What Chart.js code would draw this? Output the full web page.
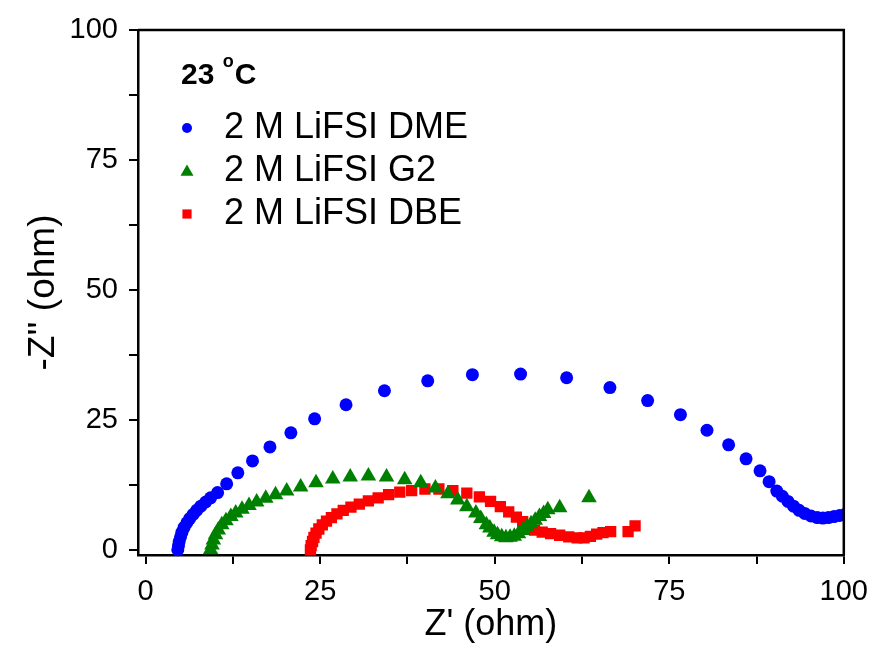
<!DOCTYPE html>
<html>
<head>
<meta charset="utf-8">
<script src="https://cdn.jsdelivr.net/npm/chart.js@4.4.1/dist/chart.umd.min.js"></script>
<style>
html,body{margin:0;padding:0;background:#fff;}
canvas{display:block;}
</style>
</head>
<body>
<canvas id="c" width="879" height="649"></canvas>
<script>
// ---- Data (Z' in ohm, -Z'' in ohm) ----
const dmeX = [4.6,4.7,4.8,5.0,5.2,5.5,5.9,6.3,6.8,7.3,7.9,8.6,9.3,10.3,11.6,13.2,15.3,17.8,20.8,24.2,28.7,34.2,40.4,46.8,53.7,60.3,66.5,71.9,76.6,80.4,83.5,86.0,88.0,89.3,90.4,91.2,92.0,92.8,93.6,94.4,95.3,96.2,97.0,97.8,98.6,99.4,100.2];
const dmeY = [0,0.8,1.6,2.5,3.4,4.3,5.2,6.0,6.8,7.6,8.4,9.2,10.0,11.0,12.7,14.8,17.1,19.8,22.5,25.2,27.9,30.6,32.5,33.7,33.8,33.1,31.2,28.7,26.0,23.0,20.2,17.5,15.2,13.1,11.3,10.3,9.3,8.4,7.6,7.0,6.5,6.2,6.1,6.2,6.4,6.6,6.8];

const g2X = [9.3,9.5,9.7,10.0,10.4,10.9,11.5,12.2,12.9,13.8,14.8,15.9,17.2,18.6,20.2,22.2,24.4,26.8,29.3,31.9,34.5,37.1,39.4,41.5,43.3,44.7,46.0,47.3,48.0,48.8,49.3,49.9,50.4,51.0,51.6,52.2,52.8,53.4,54.0,54.6,55.2,55.8,56.4,57.0,57.6,59.3,63.5];
const g2Y = [0,0.9,1.9,2.9,3.8,4.8,5.6,6.4,7.1,7.8,8.5,9.2,9.9,10.6,11.3,12.1,12.9,13.6,14.0,14.2,14.0,13.5,12.9,11.9,10.8,9.6,8.3,7.1,6.0,4.8,4.2,3.4,2.9,2.5,2.3,2.4,2.6,3.1,3.7,4.4,5.0,5.7,6.4,7.0,7.7,8.1,10.0];

const dbeX = [23.6,23.7,23.9,24.1,24.4,24.8,25.3,25.9,26.6,27.4,28.3,29.4,30.6,31.9,33.3,34.8,36.4,38.1,40.0,42.0,44.0,46.0,47.8,49.4,50.8,52.0,53.1,54.0,54.8,55.7,56.8,58.0,59.3,60.6,61.8,62.8,63.7,64.6,65.5,66.6,69.1,70.1];
const dbeY = [0,0.8,1.6,2.4,3.2,4.0,4.8,5.5,6.2,6.9,7.6,8.2,8.8,9.4,10.0,10.6,11.1,11.4,11.7,11.7,11.4,10.9,10.2,9.3,8.3,7.3,6.3,5.4,4.5,3.8,3.4,3.1,2.8,2.5,2.3,2.3,2.6,3.0,3.3,3.5,3.5,4.6];

const seriesNames = ['2 M LiFSI DME','2 M LiFSI G2','2 M LiFSI DBE'];
const tickValues = [0,12.5,25,37.5,50,62.5,75,87.5,100];
const labeledTicks = [0,25,50,75,100];
const tempLabel = ['23 ','o','C'];
const xTitle = "Z' (ohm)";
const yTitle = "-Z'' (ohm)";

const FONT = "'Liberation Sans', Arial, Helvetica, sans-serif";
const colors = ['#0000FF','#008000','#FF0000'];
const shapes = ['circle','triangle','rect'];
const radii = [6.5,9,8];

function pts(xs, ys){ return xs.map((x,i)=>({x:x, y:ys[i]})); }

const datasets = [[dmeX,dmeY],[g2X,g2Y],[dbeX,dbeY]].map((d,i)=>({
  label: seriesNames[i],
  data: pts(d[0], d[1]),
  showLine: false,
  pointStyle: shapes[i],
  pointRadius: radii[i],
  pointHoverRadius: radii[i],
  pointBackgroundColor: colors[i],
  pointBorderColor: colors[i],
  pointBorderWidth: 0,
  clip: {left: 0, right: 0, top: 0, bottom: 6}
}));

const frameLegend = {
  id: 'frameLegend',
  afterDatasetsDraw(chart){
    const ctx = chart.ctx, a = chart.chartArea;
    ctx.save();
    ctx.strokeStyle = '#000';
    ctx.lineWidth = 2.5;
    ctx.beginPath();
    ctx.moveTo(a.left, a.top); ctx.lineTo(a.right, a.top); ctx.lineTo(a.right, a.bottom);
    ctx.stroke();
    // temperature label
    ctx.fillStyle = '#000';
    ctx.textBaseline = 'middle';
    ctx.textAlign = 'left';
    let x = 181, y = 76;
    ctx.font = 'bold 30px ' + FONT;
    ctx.fillText(tempLabel[0], x, y);
    x += ctx.measureText(tempLabel[0]).width;
    ctx.font = 'bold 18px ' + FONT;
    ctx.fillText(tempLabel[1], x, y - 14);
    x += ctx.measureText(tempLabel[1]).width + 1;
    ctx.font = 'bold 30px ' + FONT;
    ctx.fillText(tempLabel[2], x, y);
    // legend entries
    const rows = [128, 171, 214];
    ctx.font = '36px ' + FONT;
    seriesNames.forEach((name, i) => {
      ctx.fillStyle = colors[i];
      ctx.strokeStyle = colors[i];
      Chart.helpers.drawPoint(ctx, {pointStyle: shapes[i], radius: radii[i]-1.5, borderWidth: 0, rotation: 0}, 187, rows[i] + (i===1?1:0));
      ctx.fillStyle = '#000';
      ctx.fillText(name, 224, rows[i]);
    });
    ctx.restore();
  }
};

function fixedTicks(scale){
  scale.ticks = tickValues.map(v => ({value: v}));
}

new Chart(document.getElementById('c'), {
  type: 'scatter',
  data: { datasets },
  options: {
    responsive: false,
    animation: false,
    devicePixelRatio: 1,
    layout: { padding: { left: 0, top: 30, right: 32, bottom: 0 } },
    plugins: { legend: { display: false }, tooltip: { enabled: false } },
    scales: {
      x: {
        type: 'linear', min: -1.1, max: 100,
        afterBuildTicks: fixedTicks,
        afterFit(s){ s.height = 94; },
        border: { display: true, color: '#000', width: 2.5 },
        grid: { drawOnChartArea: false, drawTicks: true, tickLength: 9, color: '#000', lineWidth: 2 },
        ticks: {
          color: '#000', padding: 11, maxRotation: 0, autoSkip: false,
          font: { family: FONT, size: 29 },
          callback: v => labeledTicks.includes(v) ? String(v) : ''
        },
        title: { display: true, text: xTitle, color: '#000', font: { family: FONT, size: 36 }, padding: { top: 0, bottom: 2 } }
      },
      y: {
        type: 'linear', min: -1, max: 100,
        afterBuildTicks: fixedTicks,
        afterFit(s){ s.width = 138; },
        border: { display: true, color: '#000', width: 2.5 },
        grid: { drawOnChartArea: false, drawTicks: true, tickLength: 9, color: '#000', lineWidth: 2 },
        ticks: {
          color: '#000', padding: 11, autoSkip: false,
          font: { family: FONT, size: 29 },
          callback: v => labeledTicks.includes(v) ? String(v) : ''
        },
        title: { display: true, text: yTitle, color: '#000', font: { family: FONT, size: 37 }, padding: { top: 22, bottom: 0 } }
      }
    }
  },
  plugins: [frameLegend]
});
</script>
</body>
</html>
